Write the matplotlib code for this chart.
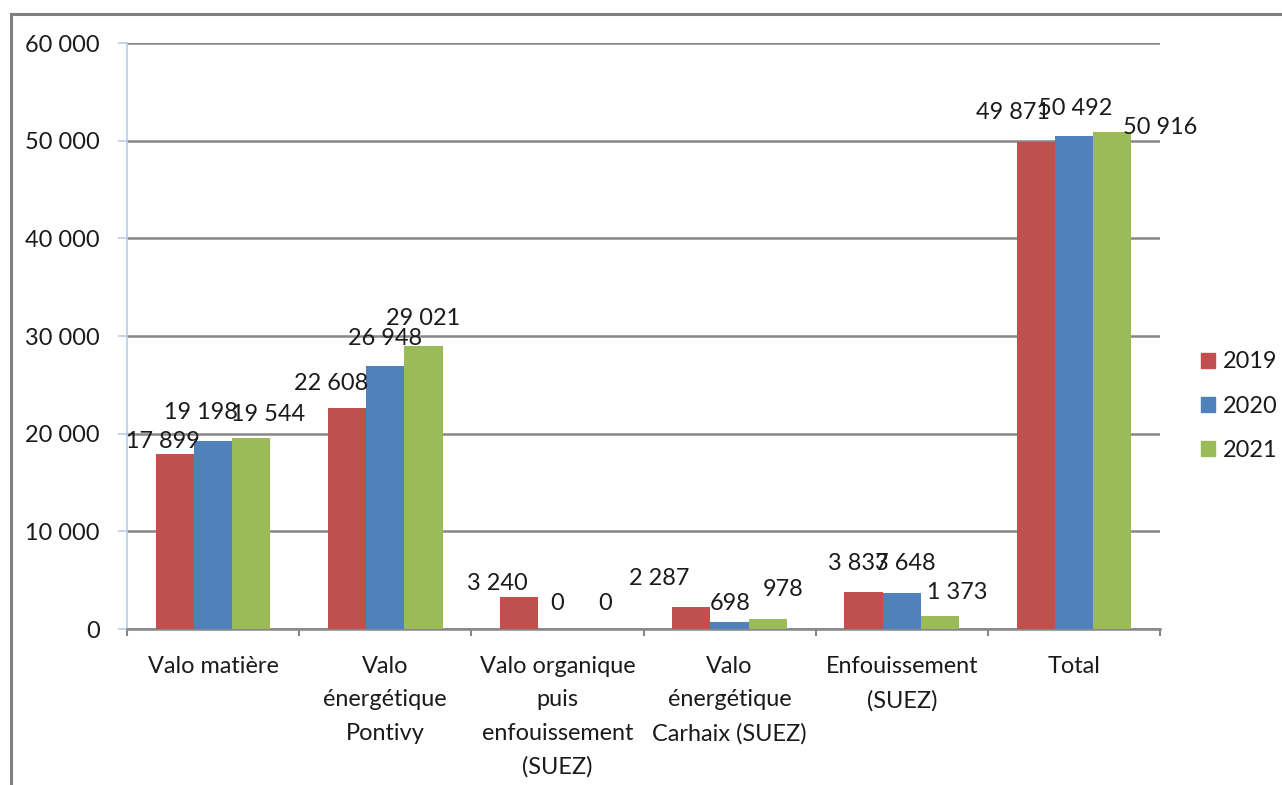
import matplotlib
matplotlib.use("Agg")
import matplotlib.pyplot as plt
from matplotlib.lines import Line2D
from matplotlib.patches import Patch
from matplotlib.ticker import FuncFormatter, MultipleLocator
import numpy as np

plt.rcParams['font.family'] = ['Lato', 'DejaVu Sans']

categories = ["Valo matière", "Valo\nénergétique\nPontivy",
              "Valo organique\npuis\nenfouissement\n(SUEZ)",
              "Valo\nénergétique\nCarhaix (SUEZ)", "Enfouissement\n(SUEZ)", "Total"]
years = ["2019", "2020", "2021"]
v2019 = [17899, 22608, 3240, 2287, 3837, 49871]
v2020 = [19198, 26948, 0, 698, 3648, 50492]
v2021 = [19544, 29021, 0, 978, 1373, 50916]
series = [v2019, v2020, v2021]
colors = ["#C0504D", "#4F81BD", "#9BBB59"]

# label nudges (px right, px up from bar top) - labels were hand placed in the original
nudge = [
    [(-12, 13), (-16, 25), (-22, 14), (-32, 28), (-5, 28), (-23, 29)],
    [(-12, 29), (0, 27), (0, 26), (1, 19), (4, 30), (1, 27)],
    [(17, 24), (0, 27), (9, 26), (15, 30), (17, 23), (48, 4)],
]

W, H = 1282, 785
fig = plt.figure(figsize=(W / 100, H / 100), dpi=100)
ax = fig.add_axes([127 / W, 1 - 629 / H, (1160 - 127) / W, (629 - 43) / H])

txt = "#1a1a1a"
grid = "#878787"
fs = 16.9

x = np.arange(len(categories))
w = 1 / 4.5
for k, vals in enumerate(series):
    xs = x + (k - 1) * w
    ax.bar(xs, vals, width=w, color=colors[k], label=years[k], zorder=3)
    for i, v in enumerate(vals):
        dx, dy = nudge[k][i]
        ax.annotate(f"{v:,}".replace(",", " "), (xs[i], v),
                    xytext=(dx * 0.72, dy * 0.72), textcoords="offset points",
                    ha="center", va="center", fontsize=fs, color=txt, zorder=4)

ax.set_xlim(-0.5, len(categories) - 0.5)
ax.set_ylim(0, 60000)
ax.yaxis.set_major_locator(MultipleLocator(10000))
ax.yaxis.set_major_formatter(FuncFormatter(lambda v, p: f"{int(v):,}".replace(",", " ")))
ax.grid(axis="y", color=grid, linewidth=1.8, zorder=0)

ax.set_xticks(x)
ax.set_xticklabels(categories, fontsize=fs, color=txt, linespacing=1.72)
ax.set_xticks(np.arange(-0.5, len(categories)), minor=True)
ax.tick_params(axis="x", which="major", length=0, pad=19.5)
ax.tick_params(axis="x", which="minor", length=5, width=1.5, color=grid, direction="out")
ax.tick_params(axis="y", length=6.5, width=1.2, color="#b9cde5", pad=13,
               labelsize=fs, labelcolor=txt)

for s in ["top", "right"]:
    ax.spines[s].set_visible(False)
ax.spines["left"].set_color("#b9cde5")
ax.spines["left"].set_linewidth(1.2)
ax.spines["bottom"].set_color(grid)
ax.spines["bottom"].set_linewidth(1.8)

handles = [Patch(facecolor=c, edgecolor=c) for c in colors]
fig.legend(handles, years, loc="center left", bbox_to_anchor=(1201 / W, 1 - 406 / H),
           frameon=False, fontsize=fs, handlelength=0.6, handleheight=0.6,
           handletextpad=0.35, labelspacing=0.98, labelcolor=txt,
           borderpad=0, borderaxespad=0)

# outer chart frame (cut off at the right and bottom)
fx, fy = 10.5 / W, 1 - 14 / H
frame = dict(transform=fig.transFigure, color="#7f7f7f", linewidth=2.2,
             solid_capstyle="projecting")
fig.add_artist(Line2D([fx, fx], [0, fy], **frame))
fig.add_artist(Line2D([fx, 1], [fy, fy], **frame))

fig.savefig("out.png", dpi=100)
